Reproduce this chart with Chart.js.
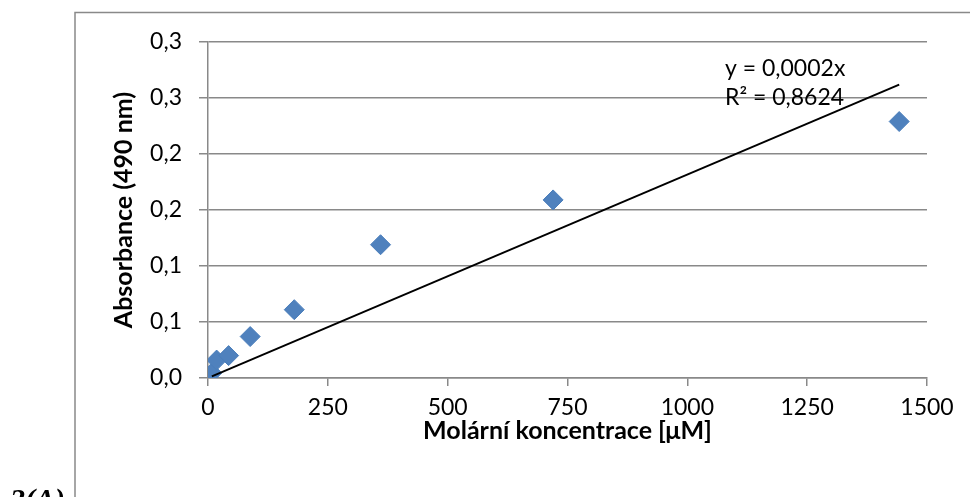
<!DOCTYPE html>
<html>
<head>
<meta charset="utf-8">
<script src="https://cdn.jsdelivr.net/npm/chart.js@4"></script>
<style>
    body { margin: 0; background: #fff; overflow: hidden; }
</style>
</head>
<body>
<canvas id="grafico-absorbance" width="970" height="497"></canvas>
<script>
var koncentrace = [8, 18, 43, 88, 180, 360, 720, 1442]; // µM
var absorbance = [0.0045, 0.016, 0.020, 0.037, 0.061, 0.119, 0.159, 0.229];
var trendX = [8, 1442]; // y = 0,0002x
var trendY = [0.00145, 0.2619];
var yTickLabels = ['0,0', '0,1', '0,1', '0,2', '0,2', '0,3', '0,3'];
var xTickLabels = ['0', '250', '500', '750', '1000', '1250', '1500'];
var rovnice = ['y = 0,0002x', 'R² = 0,8624'];

var sivaCara = '#898989';

// ramecek, rovnice a popisek 2(A)
var doplnky = {
    id: 'doplnky',
    beforeDraw: function (chart) {
        var c = chart.ctx;
        c.save();
        c.strokeStyle = sivaCara;
        c.lineWidth = 1.5;
        c.beginPath();
        c.moveTo(75, 497);
        c.lineTo(75, 12.5);
        c.lineTo(970, 12.5);
        c.stroke();
        c.restore();
    },
    afterDraw: function (chart) {
        var c = chart.ctx;
        c.save();
        c.fillStyle = '#000';
        c.font = '23px Lato';
        c.textAlign = 'left';
        c.textBaseline = 'middle';
        c.fillText(rovnice[0], 725, 69);
        c.fillText(rovnice[1], 725, 98);
        c.font = 'italic bold 30px "Liberation Serif"';
        c.textBaseline = 'alphabetic';
        c.fillText('2(A)', 10, 509);
        c.restore();
    }
};

var ctx = document.getElementById('grafico-absorbance').getContext('2d');
var meuGrafico = new Chart(ctx, {
    type: 'scatter',
    data: {
        datasets: [{
            label: 'Lineární (Absorbance)',
            data: trendX.map(function (x, i) { return { x: x, y: trendY[i] }; }),
            showLine: true,
            borderColor: '#000',
            borderWidth: 2,
            pointRadius: 0
        }, {
            label: 'Absorbance',
            data: koncentrace.map(function (x, i) { return { x: x, y: absorbance[i] }; }),
            pointStyle: 'rectRot',
            pointRadius: 10,
            backgroundColor: '#4F81BD',
            borderColor: '#4A7EBB',
            borderWidth: 1
        }]
    },
    options: {
        responsive: false,
        animation: false,
        layout: { padding: { left: 0, top: 42, right: 43, bottom: 0 } },
        plugins: { legend: { display: false }, tooltip: { enabled: false } },
        scales: {
            x: {
                type: 'linear',
                min: 0,
                max: 1500,
                afterFit: function (s) { s.height = 119; },
                afterBuildTicks: function (s) {
                    s.ticks = xTickLabels.map(function (t, i) { return { value: i * 250 }; });
                },
                ticks: {
                    color: '#000',
                    font: { family: 'Lato', size: 23 },
                    padding: 8,
                    maxRotation: 0,
                    callback: function (v, i) { return xTickLabels[i]; }
                },
                grid: { drawOnChartArea: false, color: sivaCara, tickLength: 8, lineWidth: 1.5 },
                border: { color: sivaCara, width: 1.5 },
                title: {
                    display: true,
                    text: 'Molární koncentrace [μM]',
                    color: '#000',
                    font: { family: 'Lato', size: 25, weight: 'bold' },
                    padding: { top: 0, bottom: 51 }
                }
            },
            y: {
                min: 0,
                max: 0.3,
                afterFit: function (s) { s.width = 208; },
                afterBuildTicks: function (s) {
                    s.ticks = yTickLabels.map(function (t, i) { return { value: i * 0.05 }; });
                },
                ticks: {
                    color: '#000',
                    font: { family: 'Lato', size: 23 },
                    padding: 17,
                    callback: function (v, i) { return yTickLabels[i]; }
                },
                grid: { color: sivaCara, tickLength: 9, lineWidth: 1.5 },
                border: { color: sivaCara, width: 1.5 },
                title: {
                    display: true,
                    text: 'Absorbance (490 nm)',
                    color: '#000',
                    font: { family: 'Lato', size: 25, weight: 'bold' },
                    padding: { top: 109, bottom: 0 }
                }
            }
        }
    },
    plugins: [doplnky]
});
</script>
</body>
</html>
